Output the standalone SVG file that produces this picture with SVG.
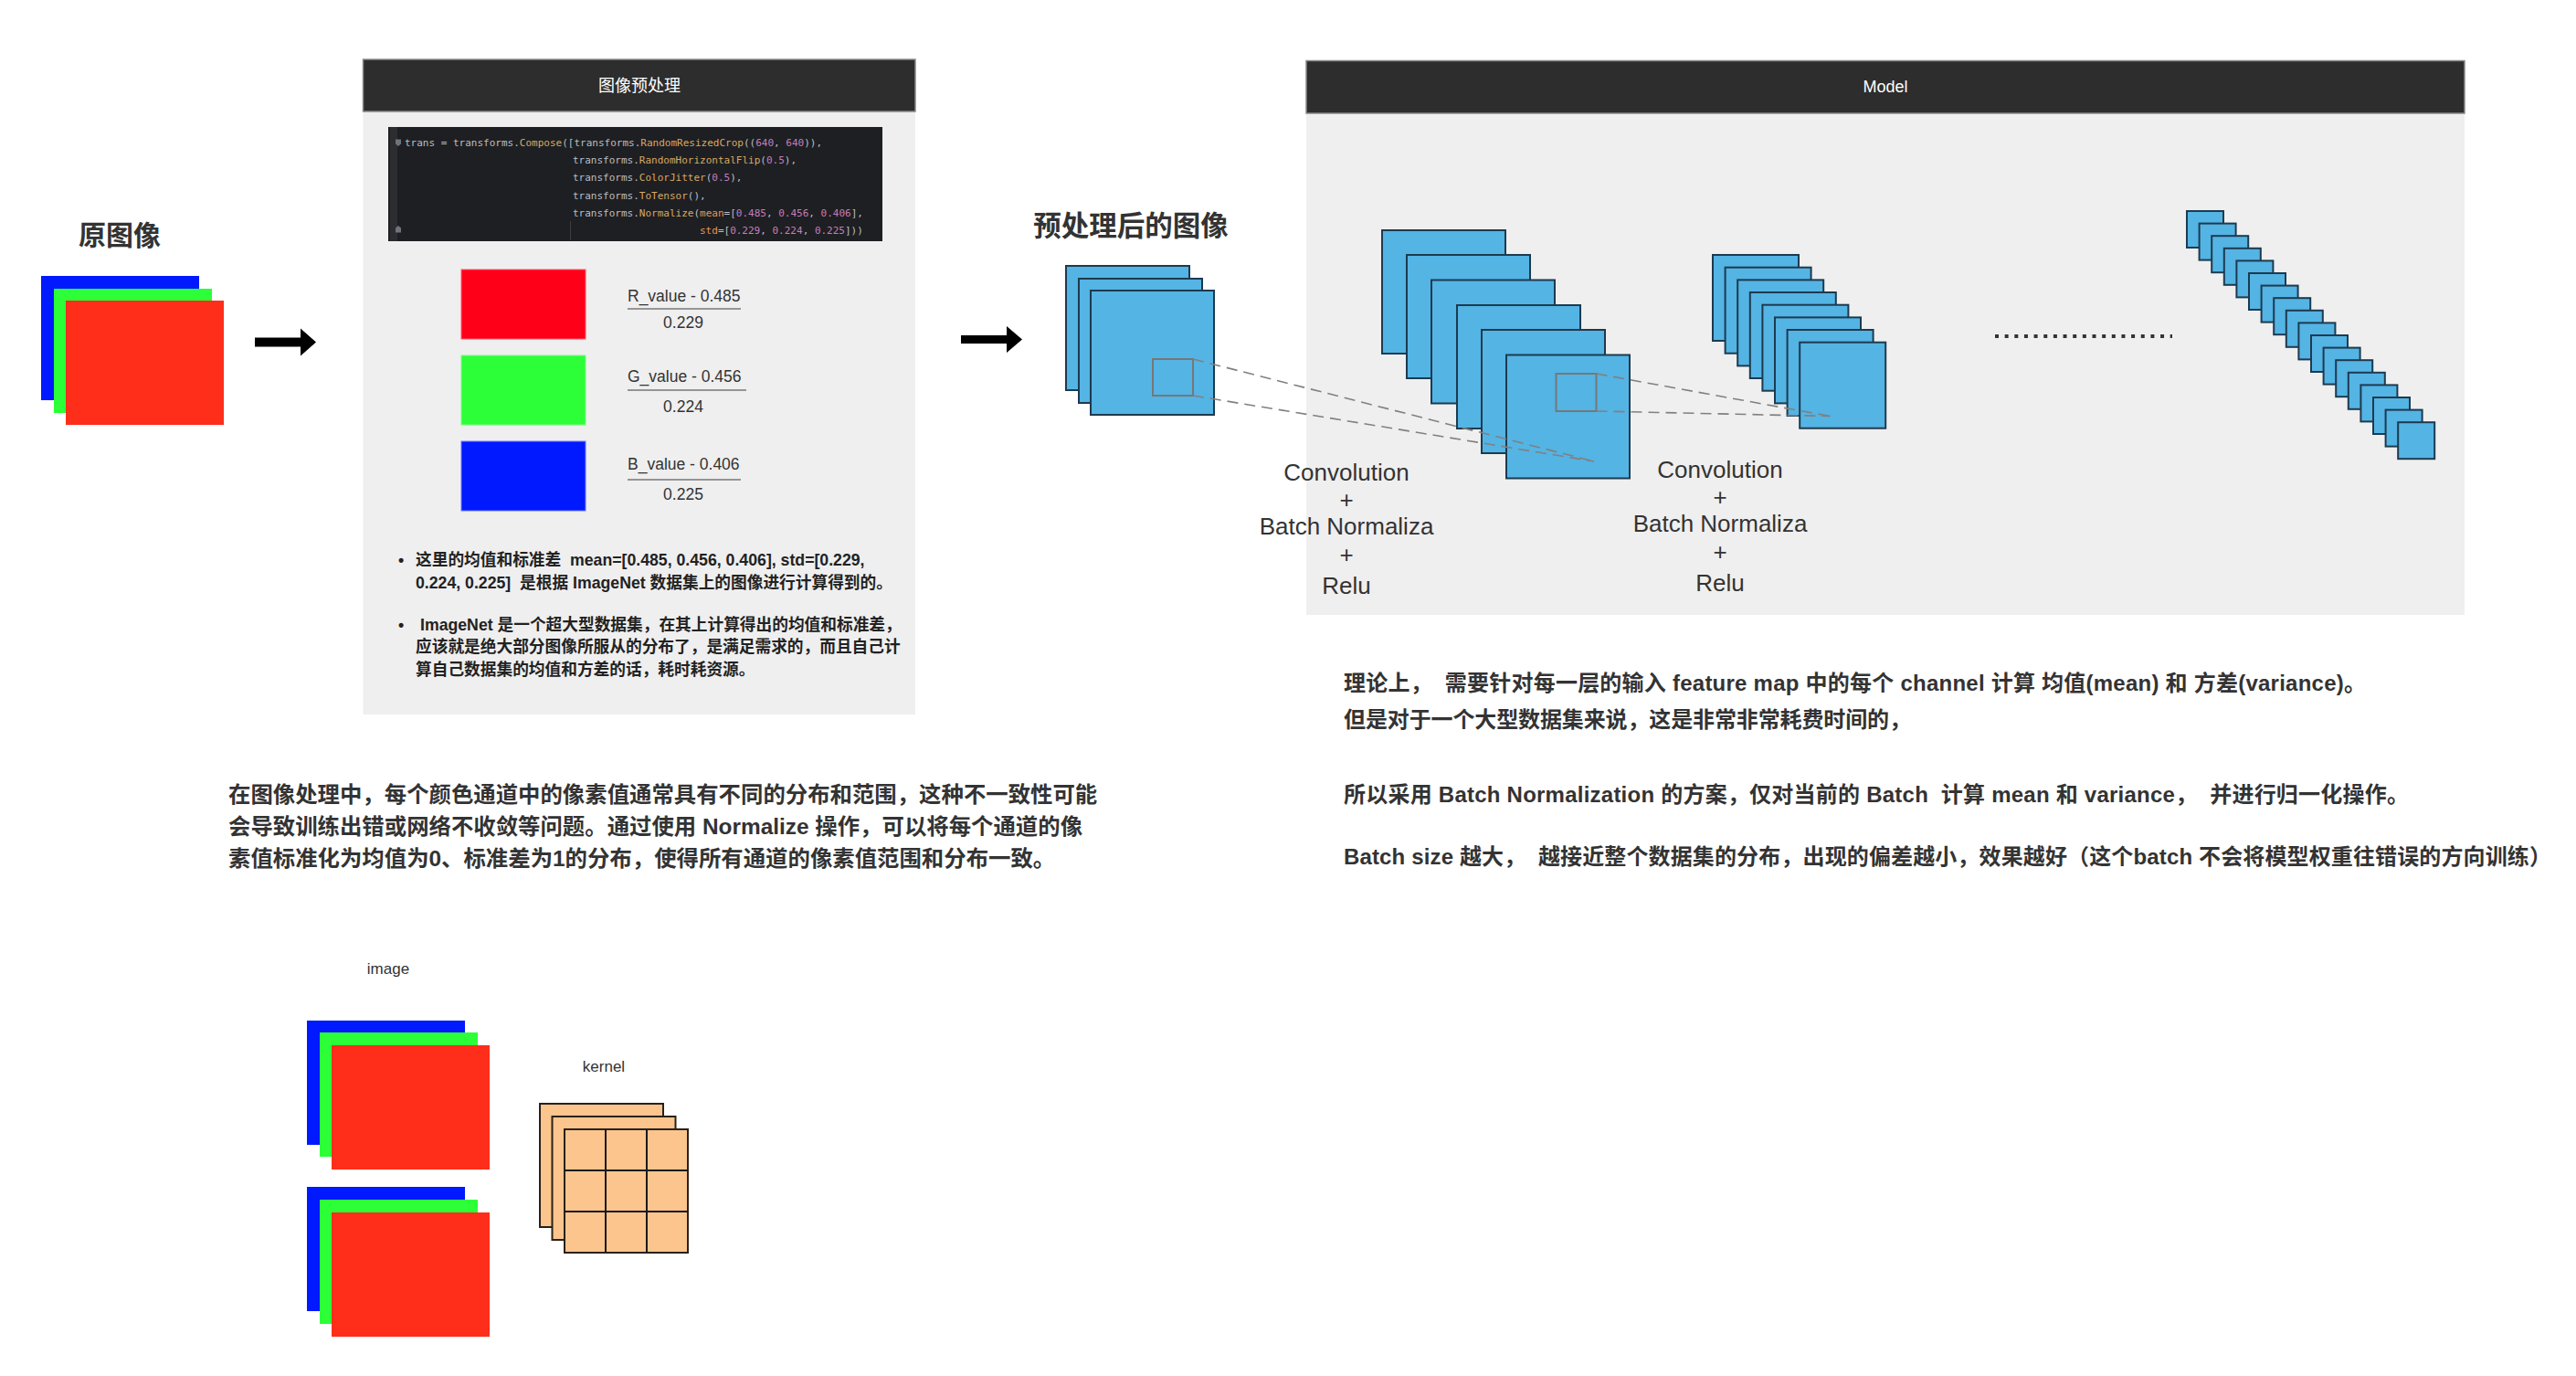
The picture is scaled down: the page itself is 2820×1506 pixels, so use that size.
<svg xmlns="http://www.w3.org/2000/svg" width="2820" height="1506" viewBox="0 0 2820 1506">
<style>
.cjkb{font-family:"Liberation Sans","Noto Sans CJK SC",sans-serif;font-weight:bold;fill:#333;}
.hdr{fill:#2d2d2d;stroke:#8a8a8a;stroke-width:1.5;}
.body{fill:#efefef;}
.hdrtxt{font-family:"Liberation Sans","Noto Sans CJK SC",sans-serif;font-size:18px;fill:#fff;text-anchor:middle;}
.fm{fill:#54b4e4;stroke:#1d3a4f;stroke-width:2;}
.win{fill:none;stroke:#777;stroke-width:2;}
.dash{fill:none;stroke:#808080;stroke-width:1.6;stroke-dasharray:12 7;}
.lbl{font-family:"Liberation Sans","Noto Sans CJK SC",sans-serif;font-size:26px;fill:#333;text-anchor:middle;}
.code{font-family:"DejaVu Sans Mono","Liberation Mono",monospace;font-size:11px;fill:#bcbec4;}
.fn{fill:#d9a862;}
.num{fill:#c77dbb;}
.kw{fill:#e3985b;}
.frac{font-family:"Liberation Sans",sans-serif;font-size:17.5px;fill:#333;}
.fracc{font-family:"Liberation Sans",sans-serif;font-size:17.5px;fill:#333;text-anchor:middle;}
.fline{stroke:#777;stroke-width:1.5;}
.bul{font-family:"Liberation Sans","Noto Sans CJK SC",sans-serif;font-size:17.7px;font-weight:bold;fill:#222;}
.txt{font-family:"Liberation Sans","Noto Sans CJK SC",sans-serif;font-weight:bold;fill:#333;}
.R{fill:#ff2e1a;}
.G{fill:#2cff38;}
.B{fill:#0019ff;}
.kern{fill:#fbc58d;stroke:#2a2118;stroke-width:2;}
.small{font-family:"Liberation Sans",sans-serif;font-size:17px;fill:#333;}
</style>
<defs>
<g id="rgb">
<rect x="0" y="0" width="173" height="136" class="B"/>
<rect x="14" y="14" width="173" height="136" class="G"/>
<rect x="27" y="27" width="173" height="136" class="R"/>
</g>
</defs>

<!-- Original image -->
<g id="original-image">
<text x="131" y="268" class="cjkb" font-size="30" text-anchor="middle">原图像</text>
<use href="#rgb" x="45" y="302"/>
</g>

<!-- Preprocessing panel -->
<g id="preprocess-panel">
<rect x="397.5" y="122" width="604.5" height="660" class="body"/>
<rect x="397.5" y="65" width="604.5" height="57" class="hdr"/>
<text x="700" y="100" class="hdrtxt">图像预处理</text>
<rect x="425" y="139" width="541" height="125" fill="#1e1f22"/>
<rect x="427" y="139" width="8" height="125" fill="#2b2d30"/>
<path d="M433 152.5h6v5l-3 2.5l-3-2.5z M433 254.5h6v-5l-3-2.5l-3 2.5z" fill="#6f737a"/>
<line x1="624.5" y1="242" x2="624.5" y2="263" stroke="#3a3c40" stroke-width="1"/>
<text class="code" x="443" y="160">trans = transforms.<tspan class="fn">Compose</tspan>([transforms.<tspan class="fn">RandomResizedCrop</tspan>((<tspan class="num">640</tspan>, <tspan class="num">640</tspan>)),</text>
<text class="code" x="627" y="179">transforms.<tspan class="fn">RandomHorizontalFlip</tspan>(<tspan class="num">0.5</tspan>),</text>
<text class="code" x="627" y="198">transforms.<tspan class="fn">ColorJitter</tspan>(<tspan class="num">0.5</tspan>),</text>
<text class="code" x="627" y="217.5">transforms.<tspan class="fn">ToTensor</tspan>(),</text>
<text class="code" x="627" y="236.5">transforms.<tspan class="fn">Normalize</tspan>(<tspan class="kw">mean</tspan>=[<tspan class="num">0.485</tspan>, <tspan class="num">0.456</tspan>, <tspan class="num">0.406</tspan>],</text>
<text class="code" x="766" y="255.5"><tspan class="kw">std</tspan>=[<tspan class="num">0.229</tspan>, <tspan class="num">0.224</tspan>, <tspan class="num">0.225</tspan>]))</text>

<rect x="505" y="295" width="136" height="76" fill="#ff0019" stroke="#ff5a6a" stroke-width="1"/>
<rect x="505" y="389" width="136" height="76" fill="#2cff38" stroke="#7aff82" stroke-width="1"/>
<rect x="505" y="483" width="136" height="76" fill="#0019ff" stroke="#6a78ff" stroke-width="1"/>

<text class="frac" x="687" y="330">R_value - 0.485</text>
<line class="fline" x1="687" y1="338" x2="811" y2="338"/>
<text class="fracc" x="748" y="359">0.229</text>
<text class="frac" x="687" y="418">G_value - 0.456</text>
<line class="fline" x1="687" y1="427" x2="817" y2="427"/>
<text class="fracc" x="748" y="451">0.224</text>
<text class="frac" x="687" y="514">B_value - 0.406</text>
<line class="fline" x1="687" y1="525" x2="811" y2="525"/>
<text class="fracc" x="748" y="547">0.225</text>

<text class="bul" x="436" y="619">•</text>
<text class="bul" x="455" y="619" xml:space="preserve">这里的均值和标准差  mean=[0.485, 0.456, 0.406], std=[0.229,</text>
<text class="bul" x="455" y="644" xml:space="preserve">0.224, 0.225]  是根据 ImageNet 数据集上的图像进行计算得到的。</text>
<text class="bul" x="436" y="690">•</text>
<text class="bul" x="460" y="690">ImageNet 是一个超大型数据集，在其上计算得出的均值和标准差，</text>
<text class="bul" x="455" y="714">应该就是绝大部分图像所服从的分布了，是满足需求的，而且自己计</text>
<text class="bul" x="455" y="739">算自己数据集的均值和方差的话，耗时耗资源。</text>
</g>

<!-- Preprocessed image -->
<g id="preprocessed-image">
<text x="1238" y="258" class="cjkb" font-size="30.5" text-anchor="middle">预处理后的图像</text>
<rect x="1167" y="291" width="135" height="136" class="fm"/>
<rect x="1181" y="305" width="135" height="136" class="fm"/>
<rect x="1194" y="318" width="135" height="136" class="fm"/>
<rect x="1262" y="393" width="44" height="40" class="win"/>
</g>

<!-- Model panel -->
<g id="model-panel">
<rect x="1430" y="124" width="1268" height="549" class="body"/>
<rect x="1430" y="66.5" width="1268" height="57.5" class="hdr"/>
<text x="2064" y="101" class="hdrtxt">Model</text>
</g>

<g id="conv-layer-1">
<rect x="1513" y="252" width="135" height="135" class="fm"/>
<rect x="1540" y="279" width="135" height="135" class="fm"/>
<rect x="1567" y="306.5" width="135" height="135" class="fm"/>
<rect x="1595" y="334" width="135" height="135" class="fm"/>
<rect x="1622" y="361" width="135" height="135" class="fm"/>
<rect x="1649" y="388.5" width="135" height="135" class="fm"/>
<rect x="1703.5" y="409" width="44" height="41" class="win"/>
</g>

<g id="conv-layer-2">
<rect x="1875" y="279" width="94" height="94" class="fm"/>
<rect x="1888.6" y="292.7" width="94" height="94" class="fm"/>
<rect x="1902.2" y="306.4" width="94" height="94" class="fm"/>
<rect x="1915.8" y="320" width="94" height="94" class="fm"/>
<rect x="1929.4" y="333.7" width="94" height="94" class="fm"/>
<rect x="1943" y="347.4" width="94" height="94" class="fm"/>
<rect x="1956.6" y="361" width="94" height="94" class="fm"/>
<rect x="1970.2" y="374.7" width="94" height="94" class="fm"/>
</g>

<g id="ellipsis">
<line x1="2184" y1="368" x2="2378" y2="368" stroke="#333" stroke-width="4" stroke-dasharray="4 6.65"/>
</g>

<g id="conv-layer-n">
<rect x="2394" y="231" width="40" height="40" class="fm"/>
<rect x="2407.6" y="244.6" width="40" height="40" class="fm"/>
<rect x="2421.2" y="258.2" width="40" height="40" class="fm"/>
<rect x="2434.8" y="271.8" width="40" height="40" class="fm"/>
<rect x="2448.4" y="285.4" width="40" height="40" class="fm"/>
<rect x="2462" y="299" width="40" height="40" class="fm"/>
<rect x="2475.6" y="312.6" width="40" height="40" class="fm"/>
<rect x="2489.2" y="326.2" width="40" height="40" class="fm"/>
<rect x="2502.8" y="339.8" width="40" height="40" class="fm"/>
<rect x="2516.4" y="353.4" width="40" height="40" class="fm"/>
<rect x="2530" y="367" width="40" height="40" class="fm"/>
<rect x="2543.6" y="380.6" width="40" height="40" class="fm"/>
<rect x="2557.2" y="394.2" width="40" height="40" class="fm"/>
<rect x="2570.8" y="407.8" width="40" height="40" class="fm"/>
<rect x="2584.4" y="421.4" width="40" height="40" class="fm"/>
<rect x="2598" y="435" width="40" height="40" class="fm"/>
<rect x="2611.6" y="448.6" width="40" height="40" class="fm"/>
<rect x="2625.2" y="462.2" width="40" height="40" class="fm"/>
</g>

<g id="label-1">
<text class="lbl" x="1474" y="526">Convolution</text>
<text class="lbl" x="1474" y="556">+</text>
<text class="lbl" x="1474" y="585">Batch Normaliza</text>
<text class="lbl" x="1474" y="616">+</text>
<text class="lbl" x="1474" y="650">Relu</text>
</g>
<g id="label-2">
<text class="lbl" x="1883" y="523">Convolution</text>
<text class="lbl" x="1883" y="553">+</text>
<text class="lbl" x="1883" y="582">Batch Normaliza</text>
<text class="lbl" x="1883" y="613">+</text>
<text class="lbl" x="1883" y="647">Relu</text>
</g>

<!-- Connectors -->
<g id="connectors">
<path d="M279 369.5h50v-10l17 15l-17 15v-10h-50z" fill="#000"/>
<path d="M1052 367h50v-10l17 14.5l-17 14.5v-10h-50z" fill="#000"/>
<line class="dash" x1="1306" y1="393" x2="1745" y2="505"/>
<line class="dash" x1="1306" y1="433" x2="1745" y2="505"/>
<line class="dash" x1="1747.5" y1="409" x2="2003.5" y2="455.5"/>
<line class="dash" x1="1747.5" y1="450" x2="2003.5" y2="455.5"/>
</g>

<!-- Notes -->
<g id="note-left">
<text class="txt" font-size="24.4" x="250" y="878">在图像处理中，每个颜色通道中的像素值通常具有不同的分布和范围，这种不一致性可能</text>
<text class="txt" font-size="24.4" x="250" y="913">会导致训练出错或网络不收敛等问题。通过使用 Normalize 操作，可以将每个通道的像</text>
<text class="txt" font-size="24.4" x="250" y="948">素值标准化为均值为0、标准差为1的分布，使得所有通道的像素值范围和分布一致。</text>
</g>
<g id="note-right">
<text class="txt" font-size="24" x="1471" y="756" textLength="1119" lengthAdjust="spacing" xml:space="preserve">理论上，  需要针对每一层的输入 feature map 中的每个 channel 计算 均值(mean) 和 方差(variance)。</text>
<text class="txt" font-size="24" x="1471" y="796" textLength="621" lengthAdjust="spacing">但是对于一个大型数据集来说，这是非常非常耗费时间的，</text>
<text class="txt" font-size="24" x="1471" y="878" textLength="1166" lengthAdjust="spacing" xml:space="preserve">所以采用 Batch Normalization 的方案，仅对当前的 Batch  计算 mean 和 variance，  并进行归一化操作。</text>
<text class="txt" font-size="24" x="1471" y="946" textLength="1322" lengthAdjust="spacing" xml:space="preserve">Batch size 越大，  越接近整个数据集的分布，出现的偏差越小，效果越好（这个batch 不会将模型权重往错误的方向训练）</text>
</g>

<!-- Bottom: image & kernel -->
<g id="image-example">
<text class="small" x="425" y="1066" text-anchor="middle">image</text>
<rect x="336" y="1117" width="173" height="136" class="B"/>
<rect x="350" y="1130" width="173" height="136" class="G"/>
<rect x="363" y="1144" width="173" height="136" class="R"/>
<rect x="336" y="1299" width="173" height="136" class="B"/>
<rect x="350" y="1313" width="173" height="136" class="G"/>
<rect x="363" y="1327" width="173" height="136" class="R"/>
</g>
<g id="kernel-example">
<text class="small" x="661" y="1173" text-anchor="middle">kernel</text>
<rect x="591" y="1208" width="135" height="135" class="kern" stroke="#4a3a2a"/>
<rect x="604.5" y="1222" width="135" height="135" class="kern" stroke="#4a3a2a"/>
<rect x="618" y="1236" width="135" height="135" class="kern"/>
<path d="M663 1236v135M708 1236v135M618 1281h135M618 1326h135" stroke="#1a1a1a" stroke-width="2" fill="none"/>
</g>
</svg>
